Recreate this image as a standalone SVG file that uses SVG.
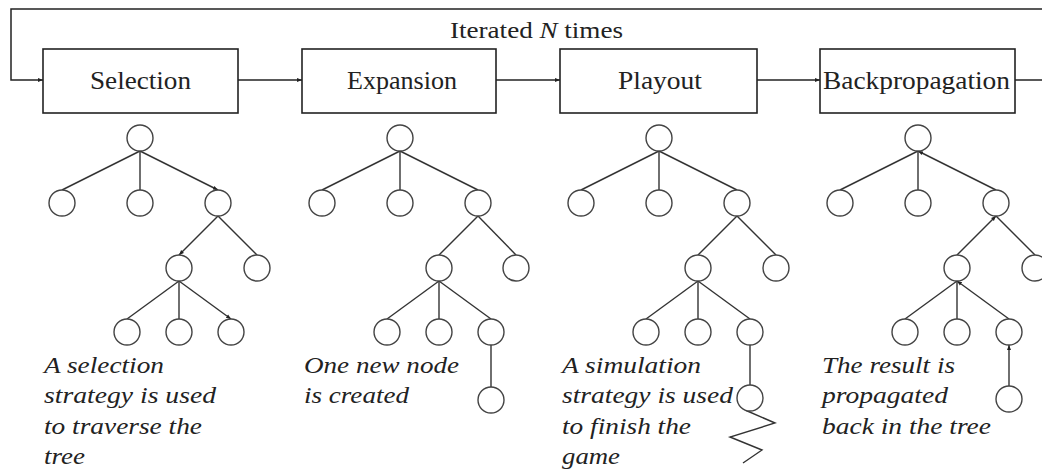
<svg xmlns="http://www.w3.org/2000/svg" width="1042" height="471" viewBox="0 0 1042 471">
<defs>
<style>
.box{fill:#fff;stroke:#222;stroke-width:1.6}
.lbl{font-family:"Liberation Serif","Times New Roman",serif;font-size:26px;fill:#222;text-anchor:start}
.cap{font-family:"Liberation Serif","Times New Roman",serif;font-size:23px;font-style:italic;fill:#222}
.conn{fill:none;stroke:#222;stroke-width:1.5}
.edge{fill:none;stroke:#333;stroke-width:1.4}
.nd{fill:#fff;stroke:#444;stroke-width:1.4}
</style>
<marker id="ah" viewBox="0 0 10 10" refX="10" refY="5" markerWidth="5" markerHeight="5" orient="auto" markerUnits="userSpaceOnUse">
<path d="M0,1 L10,5 L0,9 z" fill="#222"/>
</marker>
</defs>
<rect width="1042" height="471" fill="#fff"/>

<g id="connectors">
<polyline class="conn" points="1042,9 11,9 11,80 43,80" marker-end="url(#ah)"/>
<line class="conn" x1="238" y1="80" x2="302" y2="80" marker-end="url(#ah)"/>
<line class="conn" x1="496" y1="80" x2="560" y2="80" marker-end="url(#ah)"/>
<line class="conn" x1="757" y1="80" x2="820" y2="80" marker-end="url(#ah)"/>
<line class="conn" x1="1015" y1="80" x2="1042" y2="80"/>
<text x="450" y="38" font-family="'Liberation Serif','Times New Roman',serif" font-size="24" fill="#222" textLength="173" lengthAdjust="spacingAndGlyphs">Iterated <tspan font-style="italic">N</tspan> times</text>
</g>

<g id="selection">
<rect class="box" x="43" y="49" width="195" height="64"/>
<text class="lbl" x="90" y="89" textLength="101" lengthAdjust="spacingAndGlyphs">Selection</text>
</g>
<g id="expansion">
<rect class="box" x="302" y="49" width="194" height="64"/>
<text class="lbl" x="347" y="89" textLength="110" lengthAdjust="spacingAndGlyphs">Expansion</text>
</g>
<g id="playout">
<rect class="box" x="560" y="49" width="197" height="64"/>
<text class="lbl" x="618" y="89" textLength="84" lengthAdjust="spacingAndGlyphs">Playout</text>
</g>
<g id="backpropagation">
<rect class="box" x="820" y="49" width="195" height="64"/>
<text class="lbl" x="823" y="89" textLength="187" lengthAdjust="spacingAndGlyphs">Backpropagation</text>
</g>

<g id="tree-selection">
<line class="edge" x1="140" y1="151" x2="62" y2="190"/>
<line class="edge" x1="140" y1="151" x2="140" y2="190"/>
<line class="edge" x1="140" y1="151" x2="218" y2="190" marker-end="url(#ah)"/>
<line class="edge" x1="218" y1="216" x2="179" y2="255" marker-end="url(#ah)"/>
<line class="edge" x1="218" y1="216" x2="257" y2="255"/>
<line class="edge" x1="179" y1="281" x2="127" y2="319"/>
<line class="edge" x1="179" y1="281" x2="179" y2="319"/>
<line class="edge" x1="179" y1="281" x2="231" y2="319" marker-end="url(#ah)"/>
<circle class="nd" cx="140" cy="138" r="13"/>
<circle class="nd" cx="62" cy="203" r="13"/>
<circle class="nd" cx="140" cy="203" r="13"/>
<circle class="nd" cx="218" cy="203" r="13"/>
<circle class="nd" cx="179" cy="268" r="13"/>
<circle class="nd" cx="257" cy="268" r="13"/>
<circle class="nd" cx="127" cy="332" r="13"/>
<circle class="nd" cx="179" cy="332" r="13"/>
<circle class="nd" cx="231" cy="332" r="13"/>
<text class="cap" x="44" y="373" textLength="120" lengthAdjust="spacingAndGlyphs">A selection</text>
<text class="cap" x="44" y="403" textLength="172" lengthAdjust="spacingAndGlyphs">strategy is used</text>
<text class="cap" x="44" y="434" textLength="158" lengthAdjust="spacingAndGlyphs">to traverse the</text>
<text class="cap" x="44" y="464" textLength="41" lengthAdjust="spacingAndGlyphs">tree</text>
</g>

<g id="tree-expansion">
<line class="edge" x1="400" y1="151" x2="322" y2="190"/>
<line class="edge" x1="400" y1="151" x2="400" y2="190"/>
<line class="edge" x1="400" y1="151" x2="478" y2="190"/>
<line class="edge" x1="478" y1="216" x2="439" y2="255"/>
<line class="edge" x1="478" y1="216" x2="516" y2="255"/>
<line class="edge" x1="439" y1="281" x2="387" y2="319"/>
<line class="edge" x1="439" y1="281" x2="439" y2="319"/>
<line class="edge" x1="439" y1="281" x2="491" y2="319"/>
<line class="edge" x1="491" y1="345" x2="491" y2="387"/>
<circle class="nd" cx="400" cy="138" r="13"/>
<circle class="nd" cx="322" cy="203" r="13"/>
<circle class="nd" cx="400" cy="203" r="13"/>
<circle class="nd" cx="478" cy="203" r="13"/>
<circle class="nd" cx="439" cy="268" r="13"/>
<circle class="nd" cx="516" cy="268" r="13"/>
<circle class="nd" cx="387" cy="332" r="13"/>
<circle class="nd" cx="439" cy="332" r="13"/>
<circle class="nd" cx="491" cy="332" r="13"/>
<circle class="nd" cx="491" cy="400" r="13"/>
<text class="cap" x="304" y="373" textLength="155" lengthAdjust="spacingAndGlyphs">One new node</text>
<text class="cap" x="304" y="403" textLength="105" lengthAdjust="spacingAndGlyphs">is created</text>
</g>

<g id="tree-playout">
<line class="edge" x1="659" y1="151" x2="581" y2="190"/>
<line class="edge" x1="659" y1="151" x2="659" y2="190"/>
<line class="edge" x1="659" y1="151" x2="737" y2="190"/>
<line class="edge" x1="737" y1="216" x2="698" y2="255"/>
<line class="edge" x1="737" y1="216" x2="776" y2="255"/>
<line class="edge" x1="698" y1="281" x2="646" y2="319"/>
<line class="edge" x1="698" y1="281" x2="698" y2="319"/>
<line class="edge" x1="698" y1="281" x2="750" y2="319"/>
<line class="edge" x1="750" y1="345" x2="750" y2="385"/>
<polyline class="edge" points="745,410 775,423 730,437 762,450 743,463"/>
<circle class="nd" cx="659" cy="138" r="13"/>
<circle class="nd" cx="581" cy="203" r="13"/>
<circle class="nd" cx="659" cy="203" r="13"/>
<circle class="nd" cx="737" cy="203" r="13"/>
<circle class="nd" cx="698" cy="268" r="13"/>
<circle class="nd" cx="776" cy="268" r="13"/>
<circle class="nd" cx="646" cy="332" r="13"/>
<circle class="nd" cx="698" cy="332" r="13"/>
<circle class="nd" cx="750" cy="332" r="13"/>
<circle class="nd" cx="750" cy="398" r="13"/>
<text class="cap" x="562" y="373" textLength="139" lengthAdjust="spacingAndGlyphs">A simulation</text>
<text class="cap" x="562" y="403" textLength="171" lengthAdjust="spacingAndGlyphs">strategy is used</text>
<text class="cap" x="562" y="434" textLength="129" lengthAdjust="spacingAndGlyphs">to finish the</text>
<text class="cap" x="562" y="464" textLength="58" lengthAdjust="spacingAndGlyphs">game</text>
</g>

<g id="tree-backpropagation">
<line class="edge" x1="918" y1="151" x2="840" y2="190"/>
<line class="edge" x1="918" y1="151" x2="918" y2="190"/>
<line class="edge" x1="996" y1="190" x2="918" y2="151" marker-end="url(#ah)"/>
<line class="edge" x1="957" y1="255" x2="996" y2="216" marker-end="url(#ah)"/>
<line class="edge" x1="996" y1="216" x2="1035" y2="255"/>
<line class="edge" x1="957" y1="281" x2="905" y2="319"/>
<line class="edge" x1="957" y1="319" x2="957" y2="281"/>
<line class="edge" x1="1009" y1="319" x2="957" y2="281" marker-end="url(#ah)"/>
<line class="edge" x1="1009" y1="386" x2="1009" y2="345" marker-end="url(#ah)"/>
<circle class="nd" cx="918" cy="138" r="13"/>
<circle class="nd" cx="840" cy="203" r="13"/>
<circle class="nd" cx="918" cy="203" r="13"/>
<circle class="nd" cx="996" cy="203" r="13"/>
<circle class="nd" cx="957" cy="268" r="13"/>
<circle class="nd" cx="1035" cy="268" r="13"/>
<circle class="nd" cx="905" cy="332" r="13"/>
<circle class="nd" cx="957" cy="332" r="13"/>
<circle class="nd" cx="1009" cy="332" r="13"/>
<circle class="nd" cx="1009" cy="399" r="13"/>
<text class="cap" x="822" y="373" textLength="133" lengthAdjust="spacingAndGlyphs">The result is</text>
<text class="cap" x="822" y="403" textLength="126" lengthAdjust="spacingAndGlyphs">propagated</text>
<text class="cap" x="822" y="434" textLength="169" lengthAdjust="spacingAndGlyphs">back in the tree</text>
</g>
</svg>
